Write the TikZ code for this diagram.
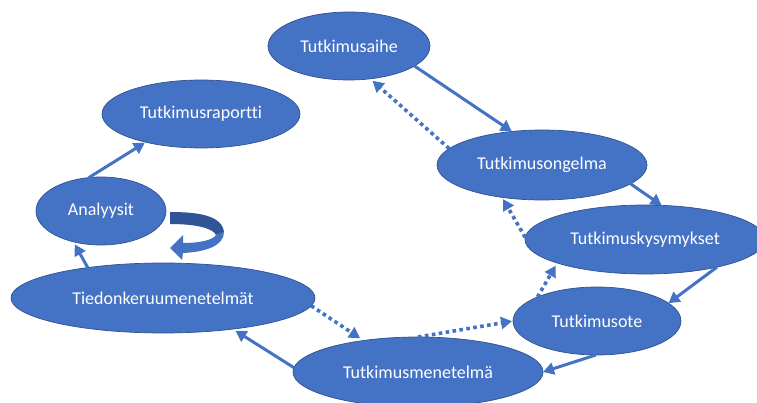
\documentclass[tikz,border=0pt]{standalone}
\usepackage{fontspec}
\setmainfont[Ligatures=NoCommon]{Carlito}
\usetikzlibrary{shapes.geometric,arrows.meta}
\definecolor{boxblue}{HTML}{4472C4}
\definecolor{edgeblue}{HTML}{2F528F}
\definecolor{backblue}{HTML}{2F5597}
\begin{document}
\begin{tikzpicture}[x=1pt,y=-1pt,
  oval/.style={ellipse,fill=boxblue,draw=edgeblue,line width=0.7pt,inner sep=0pt,outer sep=0pt,
    text=white,font=\fontsize{18}{20}\selectfont},
  link/.style={draw=boxblue,line width=3pt,-{Triangle[length=11pt,width=12pt]}},
  backlink/.style={link,line width=3.6pt,dash pattern=on 3.6pt off 3.4pt},
]
\useasboundingbox (0,0) rectangle (757,403);
\clip (0,0) rectangle (757,403);

% stages of the research process
\node[oval,minimum width=162pt,minimum height=68pt] (aihe) at (349,46) {Tutkimusaihe};
\node[oval,minimum width=198pt,minimum height=68pt] (rap) at (201,114) {Tutkimusraportti};
\node[oval,minimum width=210pt,minimum height=70pt] (ong) at (542,165) {Tutkimusongelma};
\node[oval,minimum width=240pt,minimum height=69pt] (kys) at (645,239.5) {Tutkimuskysymykset};
\node[oval,minimum width=168pt,minimum height=68pt] (ote) at (597,321) {Tutkimusote};
\node[oval,minimum width=250pt,minimum height=70pt] (men) at (418,372) {Tutkimusmenetelmä};
\node[oval,minimum width=304pt,minimum height=70pt] (tie) at (163,298) {Tiedonkeruumenetelmät};
\node[oval,minimum width=130pt,minimum height=68pt] (ana) at (101,211) {Analyysit};

% forward steps
\draw[link] (aihe.343) -- (ong.132);
\draw[link] (ong.348) -- (kys.64);
\draw[link] (kys.339) -- (ote.14);
\draw[link] (ote.268) -- (men.east);
\draw[link,shorten >=3pt] (men.178) -- (tie.336);
\draw[link,shorten >=3pt] (tie.158) -- (ana.228);
\draw[link,shorten >=1pt] (ana.110) -- (rap.207);

% feedback steps
\draw[backlink,shorten >=3pt] (ong.170) -- (aihe.303);
\draw[backlink,shorten >=2pt] (kys.179) -- (ong.219);
\draw[backlink,shorten >=3pt] (ote.158) -- (kys.195);
\draw[backlink,shorten >=1pt] (men.north) -- (ote.west);
\draw[backlink,shorten >=4pt] (tie.357) -- (men.150);

% circular arrow beside the analysis stage
\fill[backblue] (170,212) .. controls (200,212) and (222,216) .. (224,232)
  -- (216,235) .. controls (213,228) and (195,224) .. (170,224) -- cycle;
\fill[boxblue] (224,232) .. controls (224,246) and (205,252) .. (183,253)
  -- (182,260) -- (170,248) -- (183,235) -- (183,243)
  .. controls (200,243) and (213,240) .. (216,235) -- cycle;
\end{tikzpicture}
\end{document}
